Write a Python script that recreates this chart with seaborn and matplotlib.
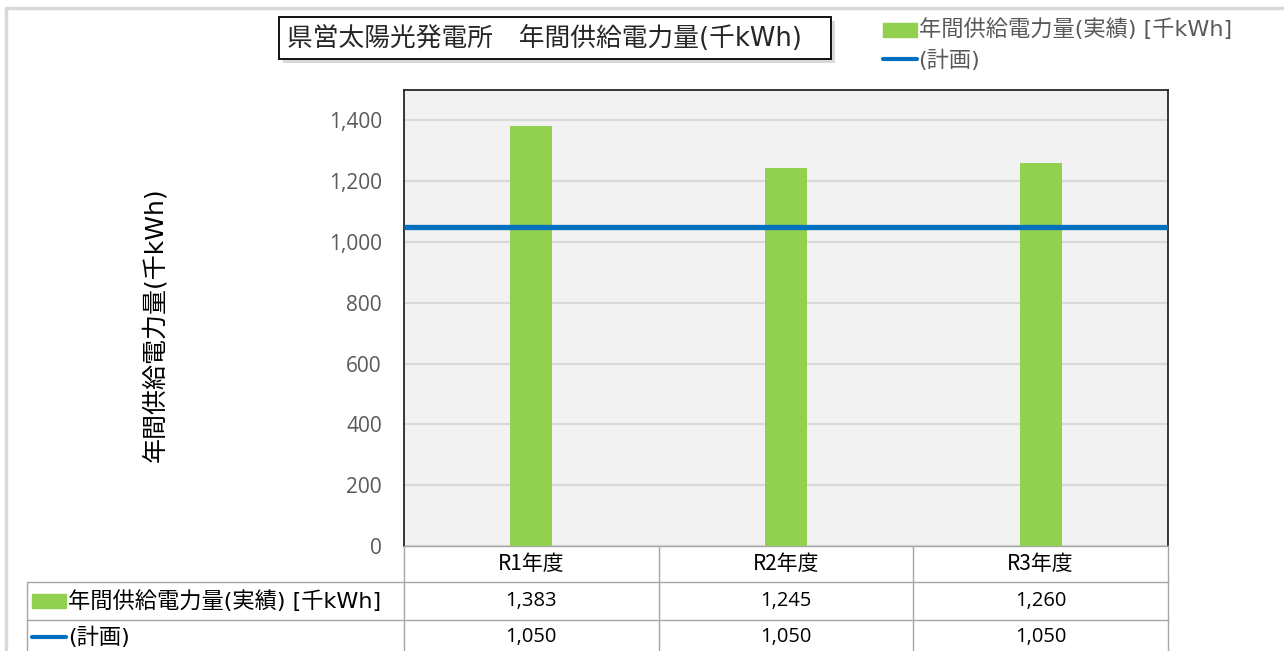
import matplotlib
matplotlib.use("Agg")
import matplotlib.pyplot as plt
import matplotlib.transforms as mtrans
from matplotlib.patches import Rectangle
from matplotlib.ticker import FuncFormatter, MultipleLocator
import seaborn as sns
import pandas as pd

# ---- data ----
categories = ["R1年度", "R2年度", "R3年度"]
actual = [1383, 1245, 1260]
plan = [1050, 1050, 1050]
actual_label = "年間供給電力量(実績) [千kWh]"
plan_label = "(計画)"
title_text = "県営太陽光発電所　年間供給電力量(千kWh)"
ylabel_text = "年間供給電力量(千kWh)"

sns.set_theme(style="white")
plt.rcParams["font.family"] = ["Noto Sans CJK JP", "DejaVu Sans"]

GREEN = "#92D050"
BLUE = "#0070C0"
GRAY_TXT = "#595959"
NUM_FONT = ["Open Sans", "DejaVu Sans"]
WIDE_FONT = ["DejaVu Sans", "Noto Sans CJK JP"]

W, H = 1284, 651
fig = plt.figure(figsize=(W / 100, H / 100), dpi=100)
fig.patch.set_facecolor("white")

def fx(px):
    return px / W

def fy(py):
    return 1 - py / H

# main axes
L, R, T, B = 404, 1168, 90, 546
ax = fig.add_axes([fx(L), fy(B), fx(R - L), (B - T) / H])
df = pd.DataFrame({"cat": categories, "val": actual})
sns.barplot(data=df, x="cat", y="val", color=GREEN, width=0.165, ax=ax,
            saturation=1, linewidth=0, zorder=3)
n = len(categories)
px_ = [i - 0.5 for i in range(n)] + [n - 0.5]
py_ = list(plan) + [plan[-1]]
ax.plot(px_, py_, drawstyle="steps-post", color=BLUE, lw=3.8, zorder=4,
        solid_capstyle="butt")
ax.set_xlim(-0.5, n - 0.5)
ax.set_ylim(0, 1500)
ax.yaxis.set_major_locator(MultipleLocator(200))
ax.yaxis.set_major_formatter(FuncFormatter(lambda v, p: f"{v:,.0f}"))
ax.set_facecolor("#F2F2F2")
ax.grid(axis="y", color="#D9D9D9", lw=1.5, zorder=0)
ax.set_axisbelow(True)
ax.set_xlabel("")
ax.set_ylabel("")
ax.set_xticks([])
ax.tick_params(axis="y", length=0, pad=16, labelsize=15, labelcolor=GRAY_TXT)
for lab in ax.get_yticklabels():
    lab.set_family(NUM_FONT)
for s in ["left", "right", "top"]:
    ax.spines[s].set_visible(True)
    ax.spines[s].set_color("#262626")
    ax.spines[s].set_linewidth(1.3)
ax.spines["bottom"].set_visible(True)
ax.spines["bottom"].set_color("#A6A6A6")
ax.spines["bottom"].set_linewidth(1.0)

# y label
fig.text(fx(155), fy(325), ylabel_text, rotation=90, ha="center", va="center",
         fontsize=18, color="black", family=WIDE_FONT)

# ---- data table ----
TL = 27
tab = fig.add_axes([0, 0, 1, 1], facecolor="none")
tab.set_xlim(0, W)
tab.set_ylim(H, 0)
tab.axis("off")
blend = mtrans.blended_transform_factory(ax.transData, tab.transData)
row_y = [564, 601, 637]
grid_c = "#A6A6A6"
tab.plot([TL, R], [582, 582], color=grid_c, lw=1.0)
tab.plot([TL, R], [620, 620], color=grid_c, lw=1.0)
tab.plot([TL, TL], [582, H], color=grid_c, lw=1.0)
for i in range(n + 1):
    tab.plot([i - 0.5, i - 0.5], [B, H], color=grid_c, lw=1.0, transform=blend)
for i, c in enumerate(categories):
    tab.text(i, row_y[0], c, transform=blend, ha="center", va="center",
             fontsize=15, color="black")
    tab.text(i, row_y[1], f"{actual[i]:,}", transform=blend, ha="center",
             va="center", fontsize=14.5, color="black", family=NUM_FONT)
    tab.text(i, row_y[2], f"{plan[i]:,}", transform=blend, ha="center",
             va="center", fontsize=14.5, color="black", family=NUM_FONT)
tab.add_patch(Rectangle((32, 594), 34, 14, color=GREEN))
tab.text(68, row_y[1], actual_label, ha="left", va="center", fontsize=16,
         color="black", family=WIDE_FONT)
tab.plot([32, 66], [row_y[2], row_y[2]], color=BLUE, lw=3)
tab.text(68, row_y[2], plan_label, ha="left", va="center", fontsize=16,
         color="black", family=WIDE_FONT)

# ---- outer frame ----
tab.plot([6, W], [8, 8], color="#D9D9D9", lw=2.5)
tab.plot([6, 6], [8, H], color="#D9D9D9", lw=2.5)

# ---- title box ----
tab.add_patch(Rectangle((283, 21), 552, 42, facecolor="#BFBFBF",
                        edgecolor="none", alpha=0.6))
tab.add_patch(Rectangle((279, 17), 552, 42, facecolor="white",
                        edgecolor="black", lw=1.3))
tab.text(287, 39, title_text, ha="left", va="center", fontsize=18.5,
         color="#262626", family=WIDE_FONT)

# ---- top legend ----
tab.add_patch(Rectangle((883, 23), 34, 14, color=GREEN))
tab.text(919, 29, actual_label, ha="left", va="center", fontsize=16,
         color=GRAY_TXT, family=WIDE_FONT)
tab.plot([883, 917], [59, 59], color=BLUE, lw=3)
tab.text(918, 60, plan_label, ha="left", va="center", fontsize=16,
         color=GRAY_TXT, family=WIDE_FONT)

fig.savefig("out.png", dpi=100)
